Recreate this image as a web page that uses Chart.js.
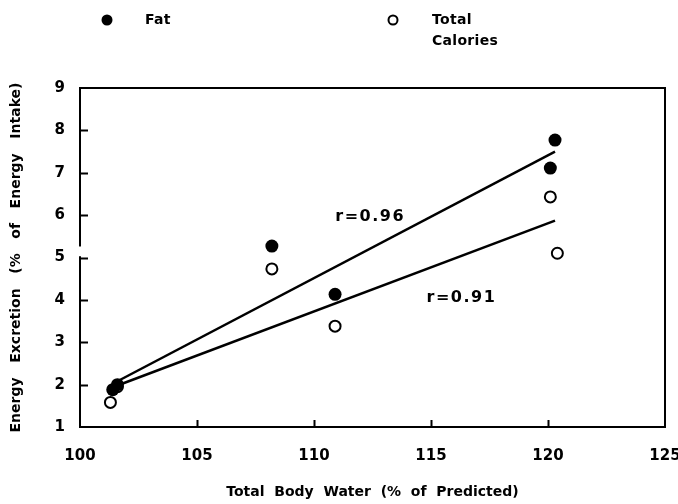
<!DOCTYPE html>
<html>
<head>
<meta charset="utf-8">
<script src="https://cdn.jsdelivr.net/npm/chart.js@4/dist/chart.umd.min.js"></script>
<style>
html,body{margin:0;padding:0;background:#fff;}
#wrap{width:678px;height:504px;}
</style>
</head>
<body>
<div id="wrap"><canvas id="c" width="678" height="504"></canvas></div>
<script>
// Data
const fatX = [101.4, 101.6, 108.2, 110.9, 120.1, 120.3];
const fatY = [1.88, 2.0, 5.27, 4.13, 7.11, 7.77];
const calX = [101.3, 101.6, 108.2, 110.9, 120.1, 120.4];
const calY = [1.58, 1.95, 4.73, 3.38, 6.43, 5.10];
const fatFitX = [101.6, 120.3];
const fatFitY = [2.08, 7.5];
const calFitX = [101.6, 120.3];
const calFitY = [1.98, 5.87];
const rLabels = ['r=0.96', 'r=0.91'];
const rLabelX = [112.4, 116.3];
const rLabelY = [5.95, 4.04];
const xTicks = [100, 105, 110, 115, 120, 125];
const yTicks = [1, 2, 3, 4, 5, 6, 7, 8, 9];
const legendLabels = ['Fat', 'Total\nCalories'];

const pts = (xs, ys) => xs.map((x, i) => ({x: x, y: ys[i]}));
const FONT = "'DejaVu Sans', 'Liberation Sans', Arial, sans-serif";

const decor = {
  id: 'decor',
  afterDatasetsDraw(chart) {
    const ctx = chart.ctx;
    const a = chart.chartArea;
    const xs = chart.scales.x, ys = chart.scales.y;
    ctx.save();
    ctx.strokeStyle = '#000';
    ctx.lineWidth = 2;
    ctx.strokeRect(a.left, a.top, a.right - a.left, a.bottom - a.top);
    // inward ticks
    ctx.beginPath();
    yTicks.slice(1, -1).forEach(v => {
      const p = Math.round(ys.getPixelForValue(v)) + 0.5;
      ctx.moveTo(a.left, p); ctx.lineTo(a.left + 8, p);
    });
    xTicks.slice(1, -1).forEach(v => {
      const p = Math.round(xs.getPixelForValue(v)) + 0.5;
      ctx.moveTo(p, a.bottom); ctx.lineTo(p, a.bottom - 7);
    });
    ctx.stroke();
    // axis break
    const b1 = ys.getPixelForValue(5.26), b2 = ys.getPixelForValue(5.03);
    ctx.fillStyle = '#fff';
    ctx.fillRect(a.left - 3, b1, 6, b2 - b1);
    // r labels
    ctx.fillStyle = '#000';
    ctx.font = 'bold 16px ' + FONT;
    ctx.letterSpacing = '1.5px';
    ctx.textAlign = 'center';
    ctx.textBaseline = 'middle';
    rLabels.forEach((t, i) => {
      ctx.fillText(t, xs.getPixelForValue(rLabelX[i]), ys.getPixelForValue(rLabelY[i]));
    });
    // legend
    ctx.letterSpacing = '0.3px';
    ctx.font = 'bold 14px ' + FONT;
    ctx.textAlign = 'left';
    ctx.beginPath();
    ctx.arc(107, 20, 5.5, 0, Math.PI * 2);
    ctx.fill();
    ctx.fillText(legendLabels[0], 145, 20);
    ctx.beginPath();
    ctx.arc(393, 20, 4.5, 0, Math.PI * 2);
    ctx.lineWidth = 2;
    ctx.stroke();
    legendLabels[1].split('\n').forEach((t, i) => ctx.fillText(t, 432, 20 + i * 21));
    ctx.restore();
  }
};

new Chart(document.getElementById('c'), {
  type: 'scatter',
  data: {
    datasets: [
      {label: 'Fat', data: pts(fatX, fatY), pointRadius: 6.5, pointBackgroundColor: '#000', pointBorderColor: '#000', pointBorderWidth: 0, showLine: false},
      {label: 'Total Calories', data: pts(calX, calY), pointRadius: 5.5, pointBackgroundColor: '#fff', pointBorderColor: '#000', pointBorderWidth: 2, showLine: false},
      {label: 'Fat fit', data: pts(fatFitX, fatFitY), showLine: true, borderColor: '#000', borderWidth: 2.5, pointRadius: 0, fill: false},
      {label: 'Calories fit', data: pts(calFitX, calFitY), showLine: true, borderColor: '#000', borderWidth: 2.5, pointRadius: 0, fill: false}
    ]
  },
  options: {
    responsive: false,
    animation: false,
    devicePixelRatio: 1,
    layout: {padding: {top: 88, right: 0, left: 0, bottom: 0}},
    plugins: {legend: {display: false}, tooltip: {enabled: false}, title: {display: false}},
    scales: {
      x: {
        type: 'linear', min: 100, max: 125,
        afterBuildTicks: s => { s.ticks = xTicks.map(v => ({value: v})); },
        grid: {display: false},
        border: {display: false},
        ticks: {color: '#000', font: {family: FONT, size: 15, weight: 'bold'}, padding: 12, maxRotation: 0},
        title: {display: true, text: 'Total  Body  Water  (%  of  Predicted)', color: '#000', font: {family: FONT, size: 14, weight: 'bold'}, padding: {top: 3, bottom: 3}},
        afterFit: s => { s.height = 77; s.paddingRight = 13; s.paddingLeft = 0; }
      },
      y: {
        type: 'linear', min: 1, max: 9,
        afterBuildTicks: s => { s.ticks = yTicks.map(v => ({value: v})); },
        grid: {display: false},
        border: {display: false},
        ticks: {color: '#000', font: {family: FONT, size: 15, weight: 'bold'}, padding: 7},
        title: {display: true, text: 'Energy   Excretion   (%   of   Energy   Intake)', color: '#000', font: {family: FONT, size: 14, weight: 'bold'}, padding: {top: 8, bottom: 0}},
        afterFit: s => { s.width = 80; s.paddingTop = 0; s.paddingBottom = 0; }
      }
    }
  },
  plugins: [decor]
});
</script>
</body>
</html>
